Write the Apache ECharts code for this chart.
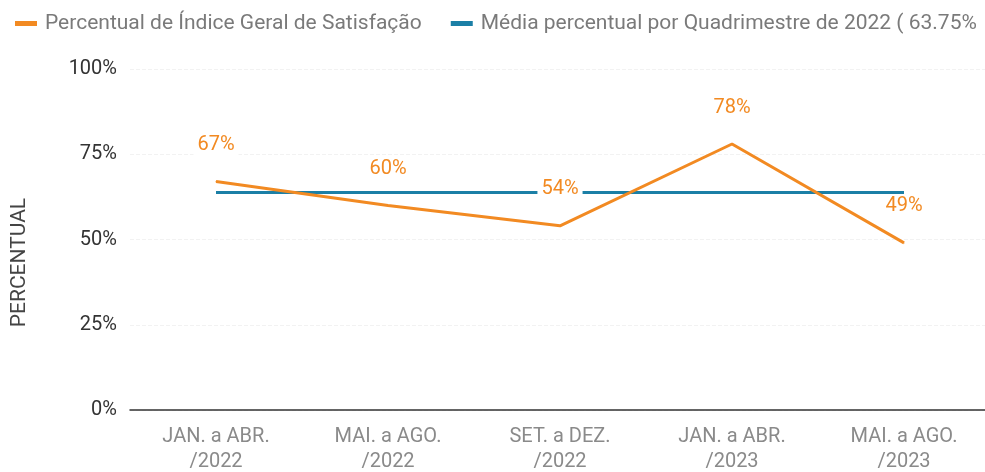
<!DOCTYPE html>
<html>
<head>
<meta charset="utf-8">
<script src="https://cdn.jsdelivr.net/npm/echarts@6/dist/echarts.min.js"></script>
<style>
  html, body { margin: 0; padding: 0; background: #fff; }
  #chart { width: 985px; height: 472px; }
</style>
</head>
<body>
<div id="chart"></div>
<script>
const categories = ['JAN. a ABR.\n/2022', 'MAI. a AGO.\n/2022', 'SET. a DEZ.\n/2022', 'JAN. a ABR.\n/2023', 'MAI. a AGO.\n/2023']
const satisfacao = [67, 60, 54, 78, 49]
const media = [63.75, 63.75, 63.75, 63.75, 63.75]
const yTicks = [0, 25, 50, 75, 100]

const nameSatisfacao = 'Percentual de Índice Geral de Satisfação'
const nameMedia = 'Média percentual por Quadrimestre de 2022 ( 63.75%'

const chart = echarts.init(document.getElementById('chart'))

chart.setOption({
  backgroundColor: '#fff',
  textStyle: { fontFamily: 'Roboto' },
  legend: {
    left: 10,
    top: 8,
    width: 1500,
    icon: 'rect',
    itemWidth: 22,
    itemHeight: 5,
    itemGap: 29,
    textStyle: { fontSize: 21, color: '#7a7a7a', fontFamily: 'Roboto', padding: [0, 0, 0, 3] },
    data: [nameSatisfacao, nameMedia]
  },
  // os rótulos do eixo x passam da borda de baixo, por isso outerBoundsMode none
  grid: { left: 130, top: 69, width: 860, bottom: 62, outerBoundsMode: 'none', containLabel: false },
  xAxis: {
    type: 'category',
    data: categories,
    axisLine: { lineStyle: { color: '#333', width: 1.5 } },
    axisTick: { show: false },
    axisLabel: { fontSize: 20, color: '#8a8a8a', lineHeight: 25, margin: 14 }
  },
  yAxis: {
    type: 'value',
    min: yTicks[0],
    max: yTicks[yTicks.length - 1],
    interval: 25,
    name: 'PERCENTUAL',
    nameLocation: 'middle',
    nameGap: 100,
    nameTextStyle: { fontSize: 21, color: '#444', padding: [0, 0, 0, -46] },
    axisLabel: { fontSize: 20, color: '#333', margin: 13, formatter: '{value}%' },
    splitLine: { lineStyle: { color: '#f2f2f2', type: 'dashed' } }
  },
  series: [
    {
      name: nameSatisfacao,
      type: 'line',
      data: satisfacao,
      symbol: 'circle',
      symbolSize: 1,
      showSymbol: true,
      color: '#F28A22',
      lineStyle: { width: 3, color: '#F28A22' },
      z: 3,
      label: {
        show: true,
        position: 'top',
        distance: 26,
        fontSize: 20,
        color: '#F28A22',
        backgroundColor: '#fff',
        padding: [0, 4],
        formatter: '{c}%'
      }
    },
    {
      name: nameMedia,
      type: 'line',
      data: media,
      symbol: 'none',
      color: '#1B7FA6',
      lineStyle: { width: 3, color: '#1B7FA6' },
      z: 2
    }
  ]
})
</script>
</body>
</html>
